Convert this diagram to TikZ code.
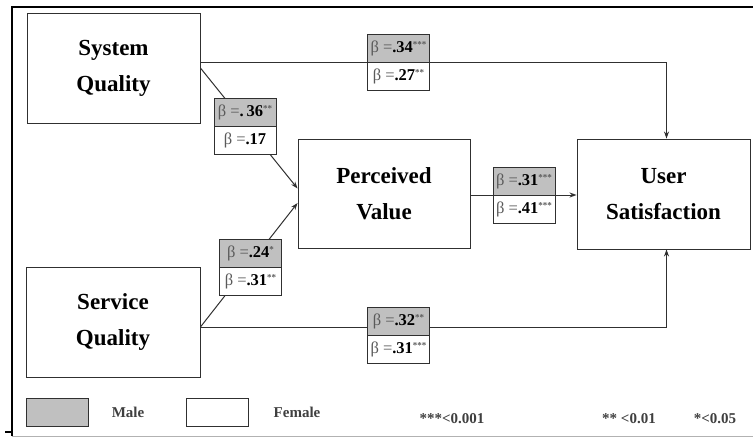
\documentclass[tikz,border=0pt]{standalone}
\usepackage{fontspec}
\setmainfont{Liberation Serif}
\usetikzlibrary{arrows.meta}
\definecolor{boxgray}{HTML}{C0C0C0}
\definecolor{txtgray}{HTML}{5A5A5A}
\definecolor{linecol}{HTML}{303030}
\newcommand{\bet}[2]{{\color{txtgray}β =}\textbf{#1}\raisebox{4.5pt}{\fontsize{9}{9}\selectfont\bfseries\color{txtgray}#2}}
\begin{document}
\begin{tikzpicture}[x=1pt,y=-1pt,
  mainbox/.style={draw=linecol,line width=0.9pt,fill=white,minimum width=173pt,minimum height=110pt,inner sep=0pt,align=center,font=\fontsize{23}{36}\selectfont\bfseries},
  betabox/.style={draw=linecol,line width=0.8pt,minimum width=62pt,minimum height=28pt,inner sep=0pt,font=\fontsize{16.5}{16.5}\selectfont},
  male/.style={betabox,fill=boxgray},
  female/.style={betabox,fill=white},
  conn/.style={draw=linecol,line width=1pt},
  arr/.style={conn,-{Stealth[length=7pt,width=5pt]}},
  legtext/.style={font=\fontsize{15}{15}\selectfont\bfseries,text=txtgray!70!black,inner sep=0pt}
]
\useasboundingbox (0,0) rectangle (753,439);
% frame
\draw[line width=2.5pt] (12,436) -- (12,7) -- (753,7);
\draw[gray!60,line width=1pt] (12,436) -- (753,436);
\draw[line width=1.2pt] (5,432) -- (12,432);
% main boxes
\node[mainbox] (SQ) at (113.5,68) {System\\Quality};
\node[mainbox,minimum width=172pt,minimum height=109pt] (PV) at (384,193.5) {Perceived\\Value};
\node[mainbox] (US) at (663.5,194) {User\\Satisfaction};
\node[mainbox,minimum width=174pt] (SeQ) at (113,322) {Service\\Quality};
% connectors
\draw[arr] ([yshift=6pt]SQ.east) -| ([xshift=3pt]US.north);
\draw[arr] (SQ.east) -- ([yshift=5pt]PV.west);
\draw[arr] ([yshift=-5pt]SeQ.east) -- ([yshift=-9.5pt]PV.west);
\draw[arr] ([yshift=-5pt]SeQ.east) -| ([xshift=3pt]US.south);
\draw[arr] ([yshift=-1.5pt]PV.east) -- ([yshift=-1.5pt]PV.east -| US.west);
% beta boxes
\node[male] (b1m) at (398.5,48) {\bet{.34}{***}};
\node[female] (b1f) at (398.5,76) {\bet{.27}{**}};
\node[male] (b2m) at (245,112) {\bet{.\,36}{**}};
\node[female] (b2f) at (245,140) {\bet{.17}{}};
\node[male] (b3m) at (250.5,253) {\bet{.24}{*}};
\node[female] (b3f) at (250.5,281) {\bet{.31}{**}};
\node[male] (b4m) at (524,181) {\bet{.31}{***}};
\node[female] (b4f) at (524,209) {\bet{.41}{***}};
\node[male] (b5m) at (398.5,321) {\bet{.32}{**}};
\node[female] (b5f) at (398.5,349) {\bet{.31}{***}};
% legend
\node[male] (lm) at (57,412) {};
\node[female] (lf) at (217,412) {};
\node[legtext] (lmt) at (128,412) {Male};
\node[legtext] (lft) at (297,412) {Female};
\node[legtext] (p1) at (452,419) {***<0.001};
\node[legtext] (p2) at (629,419) {** <0.01};
\node[legtext] (p3) at (715,419) {*<0.05};
\end{tikzpicture}
\end{document}
